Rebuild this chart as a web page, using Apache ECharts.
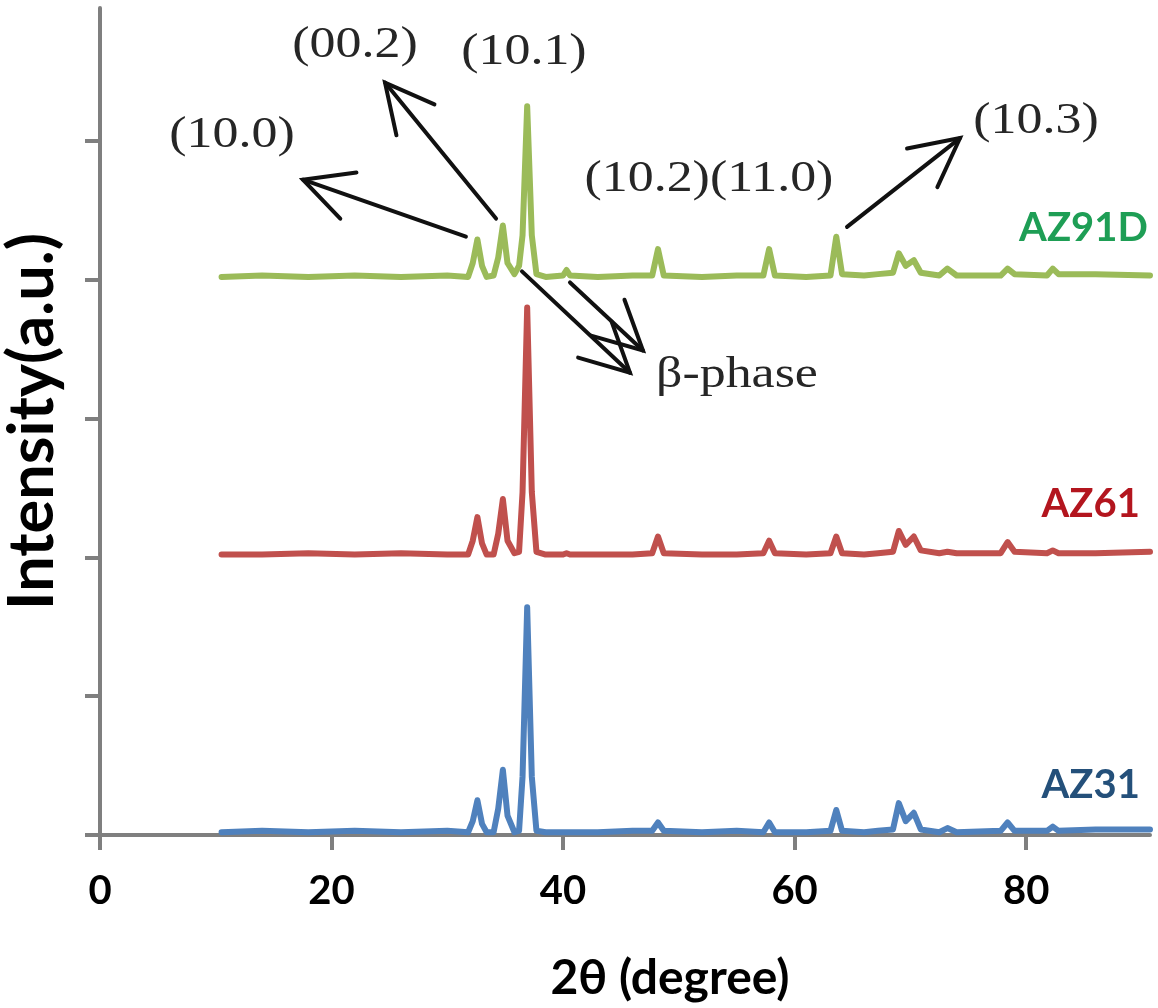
<!DOCTYPE html>
<html>
<head>
<meta charset="utf-8">
<script src="https://cdn.jsdelivr.net/npm/echarts@6/dist/echarts.min.js"></script>
<style>html,body{margin:0;padding:0;background:#fff}#c{width:1158px;height:1008px}</style>
</head>
<body>
<div id="c"></div>
<script>
// 2θ positions (degree) shared by the three patterns
const twoTheta = [10.5,14,18,22,26,30,31.8,32.2,32.6,33.0,33.4,34.0,34.4,34.8,35.2,35.8,36.2,36.5,36.9,37.3,37.7,38.5,40.0,40.3,40.6,43,46,47.7,48.2,48.7,52,55,57.3,57.8,58.3,61,63.1,63.6,64.1,66,67.2,68.5,69.0,69.6,70.3,70.9,72.5,73.2,74,77.8,78.4,79,81.8,82.3,82.8,86,90.7];
// relative intensities (a.u.)
const az91d = [0.00,0.01,0.00,0.01,0.00,0.01,0.00,0.10,0.27,0.08,0.00,0.01,0.14,0.37,0.10,0.02,0.08,0.30,1.23,0.30,0.02,0.00,0.01,0.05,0.01,0.00,0.01,0.01,0.20,0.01,0.00,0.01,0.01,0.20,0.01,0.00,0.01,0.29,0.02,0.01,0.02,0.03,0.17,0.08,0.12,0.03,0.01,0.06,0.01,0.01,0.06,0.02,0.01,0.06,0.02,0.02,0.01];
const az61  = [0.00,0.00,0.01,0.00,0.01,0.00,0.00,0.10,0.27,0.08,0.00,0.00,0.15,0.40,0.10,0.01,0.02,0.45,1.78,0.45,0.02,0.00,0.00,0.01,0.00,0.00,0.00,0.01,0.13,0.01,0.00,0.00,0.01,0.10,0.01,0.00,0.01,0.13,0.01,0.00,0.01,0.02,0.17,0.07,0.13,0.03,0.01,0.02,0.01,0.01,0.09,0.02,0.01,0.03,0.01,0.01,0.02];
const az31  = [0.00,0.01,0.00,0.01,0.00,0.01,0.00,0.08,0.23,0.06,0.00,0.00,0.17,0.45,0.12,0.00,0.01,0.40,1.62,0.40,0.01,0.00,0.00,0.00,0.00,0.00,0.01,0.01,0.07,0.01,0.00,0.01,0.00,0.07,0.00,0.00,0.01,0.16,0.01,0.00,0.01,0.02,0.21,0.08,0.14,0.02,0.00,0.03,0.00,0.01,0.07,0.01,0.01,0.04,0.01,0.02,0.02];
const sampleNames = ['AZ91D','AZ61','AZ31'];
const sampleOffsets = [4.02, 2.02, 0.02];
const xTicks = [0,20,40,60,80];
const yTicks = [0,1,2,3,4,5];
// annotations (data coordinates)
const peakLabels = [
  {text:'(10.0)', at:[11.40,5.04]},
  {text:'(00.2)', at:[22.03,5.69]},
  {text:'(10.1)', at:[36.62,5.64]},
  {text:'(10.2)(11.0)', at:[52.60,4.72]},
  {text:'(10.3)', at:[80.85,5.14]},
  {text:'β-phase', at:[55.02,3.31]}
];
const arrows = [
  {from:[31.61,4.31], to:[17.53,4.72]},
  {from:[34.21,4.44], to:[24.62,5.42]},
  {from:[64.53,4.38], to:[74.29,5.02]},
  {from:[40.60,3.98], to:[46.90,3.49]},
  {from:[36.45,4.06], to:[45.78,3.33]}
];
const sampleLabels = [
  {text:'AZ91D', at:[90.52,4.37], color:'#1e9e55'},
  {text:'AZ61',  at:[89.83,2.38], color:'#b3151e'},
  {text:'AZ31',  at:[89.83,0.36], color:'#24507a'}
];

const lineColors = ['#9bbb59','#c0504d','#4f81bd'];
const values = [az91d, az61, az31];

const chart = echarts.init(document.getElementById('c'), null, {renderer:'canvas'});
const axisGray = '#7f7f7f';
chart.setOption({
  animation:false,
  backgroundColor:'#fff',
  grid:{left:100, right:8, top:8, bottom:173, containLabel:false, outerBoundsMode:'none'},
  xAxis:{
    type:'value', min:0, max:90.7, interval:20,
    name:'2θ (degree)', nameLocation:'middle', nameGap:120,
    nameTextStyle:{fontFamily:'Lato', fontWeight:'bold', fontSize:48, color:'#000', padding:[0,0,0,90]},
    axisLine:{lineStyle:{color:axisGray, width:4}},
    axisTick:{show:true, length:15, lineStyle:{color:axisGray, width:4}, customValues:xTicks},
    axisLabel:{fontFamily:'Lato', fontWeight:'bold', fontSize:40, color:'#000', margin:36, customValues:xTicks},
    splitLine:{show:false}
  },
  yAxis:{
    type:'value', min:0, max:5.957,
    name:'Intensity(a.u.)', nameLocation:'middle', nameGap:36,
    nameTextStyle:{fontFamily:'Lato', fontWeight:'bold', fontSize:63, color:'#000'},
    axisLine:{show:true, lineStyle:{color:axisGray, width:4}},
    axisTick:{show:true, length:15, lineStyle:{color:axisGray, width:4}, customValues:yTicks},
    axisLabel:{show:false},
    splitLine:{show:false}
  },
  series: sampleNames.map((n,k)=>({
    name:n, type:'line', showSymbol:false, smooth:false,
    data: twoTheta.map((x,i)=>[x, values[k][i] + sampleOffsets[k]]),
    lineStyle:{color:lineColors[k], width:6, cap:'round', join:'round'},
    z: 3 + k
  }))
});

function px(p){ return chart.convertToPixel({gridIndex:0}, p); }
const g = [];
const serif = 'Liberation Serif, Times New Roman, serif';
peakLabels.forEach(l=>{
  const p = px(l.at);
  g.push({type:'text', x:p[0], y:p[1], scaleX:1.18, z:20,
    style:{text:l.text, fontFamily:serif, fontSize:44, fill:'#262626', align:'center', verticalAlign:'middle'}});
});
arrows.forEach(a=>{
  const t = px(a.from), h = px(a.to);
  const ang = Math.atan2(t[1]-h[1], t[0]-h[0]);
  const L = 54, spread = 27*Math.PI/180;
  const b1 = [h[0]+L*Math.cos(ang+spread), h[1]+L*Math.sin(ang+spread)];
  const b2 = [h[0]+L*Math.cos(ang-spread), h[1]+L*Math.sin(ang-spread)];
  g.push({type:'polyline', z:20, shape:{points:[t,h]}, style:{stroke:'#111', lineWidth:4, lineCap:'round'}});
  g.push({type:'polyline', z:20, shape:{points:[b1,h,b2]}, style:{stroke:'#111', lineWidth:4, lineCap:'round', lineJoin:'miter', fill:null}});
});
sampleLabels.forEach(l=>{
  const p = px(l.at);
  g.push({type:'text', x:p[0], y:p[1], z:20,
    style:{text:l.text, fontFamily:'Lato', fontWeight:'bold', fontSize:40, fill:l.color, align:'right', verticalAlign:'middle'}});
});
chart.setOption({graphic:g});
</script>
</body>
</html>
